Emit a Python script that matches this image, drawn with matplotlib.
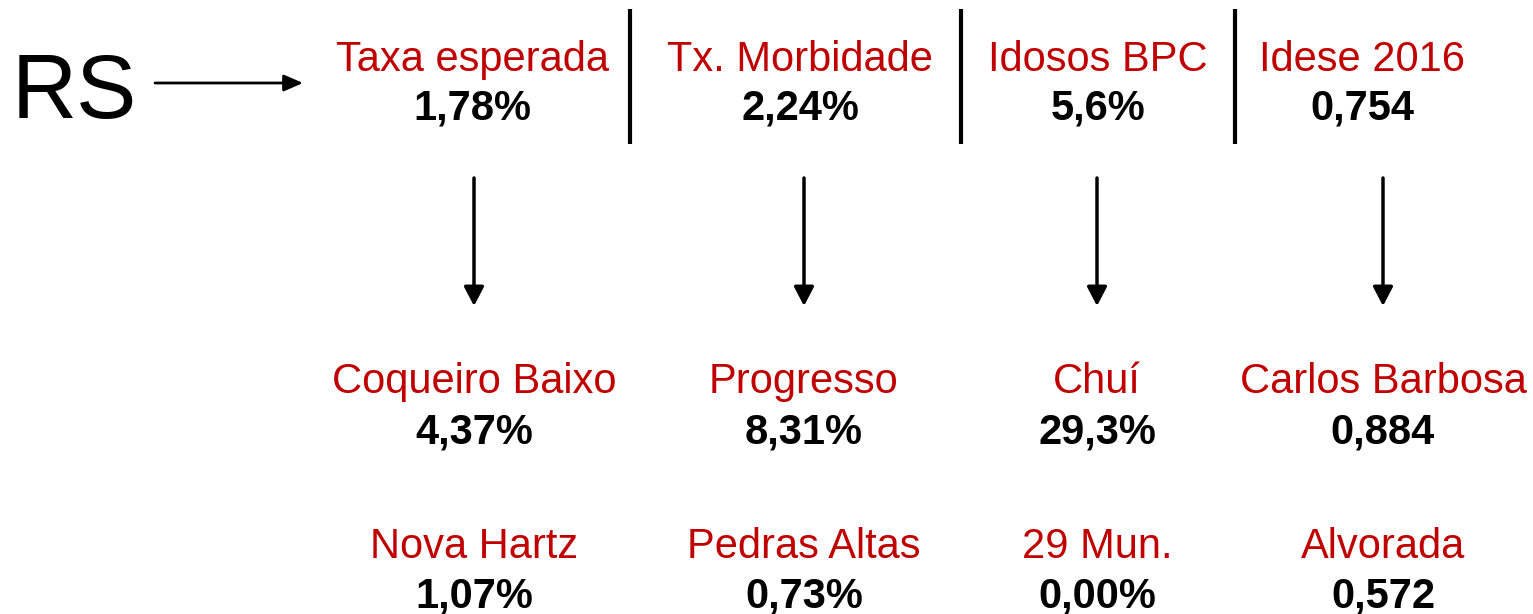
import matplotlib.pyplot as plt

# valores do painel
estado = "RS"
indicadores = ["Taxa esperada", "Tx. Morbidade", "Idosos BPC", "Idese 2016"]
valores_rs = ["1,78%", "2,24%", "5,6%", "0,754"]
maiores_mun = ["Coqueiro Baixo", "Progresso", "Chuí", "Carlos Barbosa"]
maiores_val = ["4,37%", "8,31%", "29,3%", "0,884"]
menores_mun = ["Nova Hartz", "Pedras Altas", "29 Mun.", "Alvorada"]
menores_val = ["1,07%", "0,73%", "0,00%", "0,572"]

red = '#C00000'
plt.rcParams['font.family'] = ['Liberation Sans', 'DejaVu Sans']

W, H = 1533, 614
fig = plt.figure(figsize=(W / 100, H / 100), dpi=100)
ax = fig.add_axes([0, 0, 1, 1])
ax.set_xlim(0, W)
ax.set_ylim(H, 0)
ax.axis('off')

head_x = [472, 800, 1098, 1362]
col_x = [474, 804, 1097, 1383]
sep_x = [630, 961, 1235]
fs = 30

ax.text(12, 118, estado, fontsize=65, ha='left', va='baseline', color='k')
ax.annotate('', xy=(303, 83), xytext=(155, 83),
            arrowprops=dict(arrowstyle='-|>,head_length=1.15,head_width=0.5', lw=2, color='k',
                            shrinkA=0, shrinkB=0))

for i in range(len(indicadores)):
    ax.text(head_x[i], 71, indicadores[i], fontsize=fs, color=red, ha='center', va='baseline')
    ax.text(head_x[i], 120, valores_rs[i], fontsize=fs, color='k', fontweight='bold',
            ha='center', va='baseline')
    ax.annotate('', xy=(col_x[i], 306), xytext=(col_x[i], 178),
                arrowprops=dict(arrowstyle='-|>,head_length=1.15,head_width=0.6', lw=2.5, color='k',
                                shrinkA=0, shrinkB=0))
    ax.text(col_x[i], 393, maiores_mun[i], fontsize=fs, color=red, ha='center', va='baseline')
    ax.text(col_x[i], 443, maiores_val[i], fontsize=fs, color='k', fontweight='bold',
            ha='center', va='baseline')
    ax.text(col_x[i], 558, menores_mun[i], fontsize=fs, color=red, ha='center', va='baseline')
    ax.text(col_x[i], 608, menores_val[i], fontsize=fs, color='k', fontweight='bold',
            ha='center', va='baseline')

for x in sep_x:
    ax.plot([x, x], [9, 144], color='k', lw=3, solid_capstyle='butt')

fig.savefig('out.png', dpi=100, facecolor='white')
